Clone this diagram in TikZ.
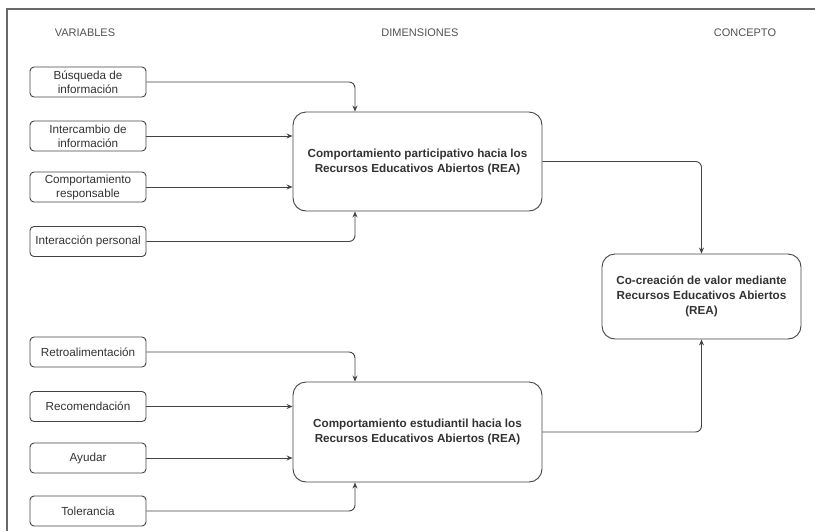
\documentclass[tikz,border=0pt]{standalone}
\usepackage{fontspec}
\setmainfont{Liberation Sans}
\usetikzlibrary{arrows.meta,calc}
\definecolor{txt}{HTML}{333333}
\definecolor{ln}{HTML}{444444}
\begin{document}
\begin{tikzpicture}[x=1pt,y=-1pt,
  smallbox/.style={draw=ln,line width=0.9pt,rounded corners=4pt,minimum width=116pt,minimum height=30pt,align=center,text=txt,font=\fontsize{11.7}{14}\selectfont,inner sep=1pt},
  bigbox/.style={draw=ln,line width=0.9pt,rounded corners=13pt,align=center,text=txt,font=\bfseries\fontsize{11.7}{15}\selectfont,inner sep=1pt},
  header/.style={text=txt!85,font=\fontsize{11}{13}\selectfont},
  conn/.style={draw=ln,line width=0.9pt,rounded corners=6pt,-{Stealth[length=6pt,width=5pt]}},
  link/.style={draw=ln,line width=0.9pt,rounded corners=6pt}]
\useasboundingbox (0,0) rectangle (815,531);
\fill[white] (0,0) rectangle (815,531);
% frame
\draw[ln!80,line width=1.2pt] (7,531) -- (7,9) -- (815,9);
% headers
\node[header] (hv) at (85,33) {VARIABLES};
\node[header] (hd) at (420,33) {DIMENSIONES};
\node[header] (hc) at (745,33) {CONCEPTO};
% small boxes top
\node[smallbox] (b1) at (88,82) {Búsqueda de\\información};
\node[smallbox] (b2) at (88,136) {Intercambio de\\información};
\node[smallbox] (b3) at (88,187) {Comportamiento\\responsable};
\node[smallbox] (b4) at (88,241.5) {Interacción personal};
% small boxes bottom
\node[smallbox] (b5) at (88,352) {Retroalimentación};
\node[smallbox] (b6) at (88,406.5) {Recomendación};
\node[smallbox] (b7) at (88,458) {Ayudar};
\node[smallbox] (b8) at (88,511) {Tolerancia};
% big boxes
\node[bigbox,minimum width=249pt,minimum height=99pt] (d1) at (417.5,161.5) {Comportamiento participativo hacia los\\Recursos Educativos Abiertos (REA)};
\node[bigbox,minimum width=249pt,minimum height=100pt] (d2) at (417.5,432) {Comportamiento estudiantil hacia los\\Recursos Educativos Abiertos (REA)};
\node[bigbox,minimum width=199pt,minimum height=85pt] (cc) at (701.5,296.5) {Co-creación de valor mediante\\Recursos Educativos Abiertos\\(REA)};
% column for vertical entries
\coordinate (col) at (355,0);
% connectors top
\draw[conn] (b1.east) -| (col |- d1.north);
\draw[conn] (b2.east) -- (b2.east -| d1.west);
\draw[conn] (b3.east) -- (b3.east -| d1.west);
\draw[conn] (b4.east) -| (col |- d1.south);
% connectors bottom
\draw[conn] (b5.east) -| (col |- d2.north);
\draw[conn] (b6.east) -- (b6.east -| d2.west);
\draw[conn] (b7.east) -- (b7.east -| d2.west);
\draw[conn] (b8.east) -| (col |- d2.south);
% to concept
\draw[conn] (d1.east) -| (cc.north);
\draw[conn] (d2.east) -| (cc.south);
\end{tikzpicture}
\end{document}
